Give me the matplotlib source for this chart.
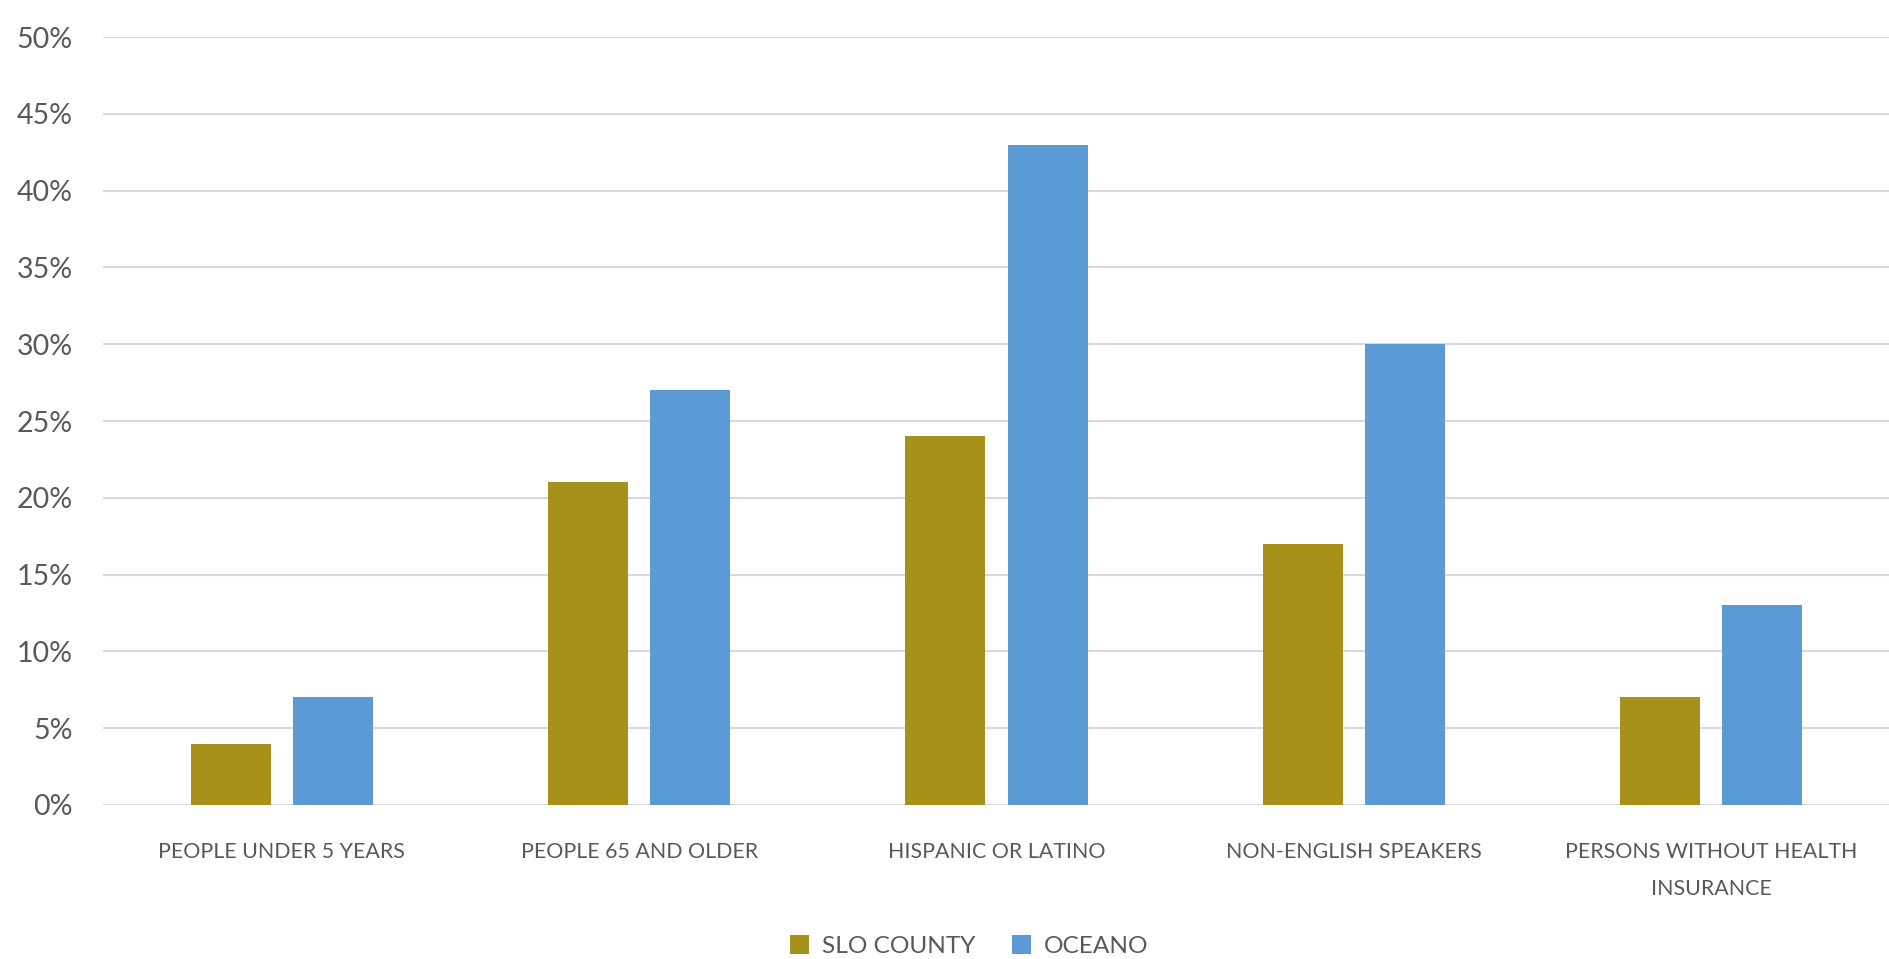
import numpy as np
import matplotlib.pyplot as plt
from matplotlib.ticker import PercentFormatter

categories = ['PEOPLE UNDER 5 YEARS', 'PEOPLE 65 AND OLDER', 'HISPANIC OR LATINO',
              'NON-ENGLISH SPEAKERS', 'PERSONS WITHOUT HEALTH\nINSURANCE']
slo_county = [4, 21, 24, 17, 7]
oceano = [7, 27, 43, 30, 13]

plt.rcParams['font.family'] = ['Lato', 'DejaVu Sans']

fig = plt.figure(figsize=(18.9, 9.59), dpi=100)
ax = fig.add_axes([0.0545, 0.1606, 0.9455, 0.8008])

x = np.arange(len(categories))
w = 0.224
gap = 0.062
ax.bar(x - (w + gap) / 2, slo_county, w, color='#A8911A', label='SLO COUNTY', zorder=3)
ax.bar(x + (w + gap) / 2, oceano, w, color='#5B9BD5', label='OCEANO', zorder=3)

ax.set_xlim(-0.5, len(categories) - 0.5)
ax.set_ylim(0, 50)
ax.set_yticks(np.arange(0, 51, 5))
ax.yaxis.set_major_formatter(PercentFormatter(decimals=0))
ax.grid(axis='y', color='#D9D9D9', linewidth=1.5, zorder=0)
for s in ax.spines.values():
    s.set_visible(False)

ax.set_xticks(x)
ax.set_xticklabels(categories, fontsize=15.4, color='#595959', linespacing=2.05)
ax.tick_params(axis='x', length=0, pad=27)
ax.tick_params(axis='y', length=0, pad=22, labelsize=20.5, labelcolor='#595959')

ax.legend(loc='center', bbox_to_anchor=(0.4846, -0.184),
          ncol=2, frameon=False, fontsize=17.6, labelcolor='#595959',
          handlelength=0.8, handleheight=0.8, handletextpad=0.5, columnspacing=1.5)

fig.savefig('out.png', dpi=100)
